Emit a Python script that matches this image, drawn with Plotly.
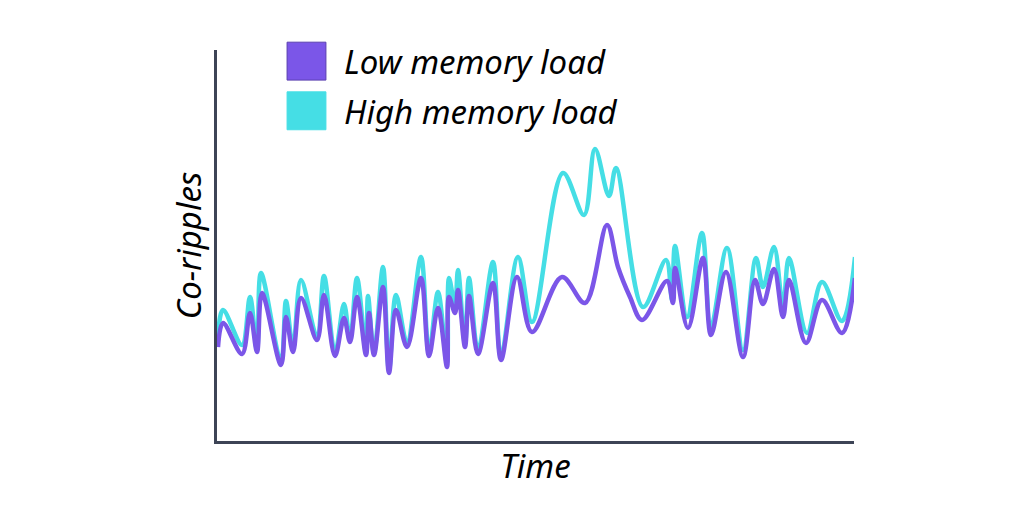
import plotly.graph_objects as go

# time (s) and co-ripple rate
time_low = [0.01, 0.06, 0.25, 0.33, 0.40, 0.45, 0.64, 0.69, 0.76, 0.84,
            1.00, 1.07, 1.18, 1.27, 1.33, 1.40, 1.49, 1.52, 1.57, 1.66,
            1.72, 1.79, 1.90, 2.04, 2.12, 2.21, 2.30, 2.32, 2.38, 2.41,
            2.48, 2.52, 2.61, 2.76, 2.84, 3.00, 3.15, 3.45, 3.68, 3.90,
            4.01, 4.13, 4.25, 4.50, 4.56, 4.58, 4.71, 4.86, 4.94, 5.09,
            5.26, 5.38, 5.46, 5.57, 5.66, 5.72, 5.89, 6.05, 6.25, 6.38]
low_load = [0.94, 1.18, 0.87, 1.28, 0.89, 1.48, 0.76, 1.24, 0.89, 1.43,
            1.01, 1.46, 0.85, 1.23, 0.99, 1.44, 0.86, 1.28, 0.86, 1.54,
            0.68, 1.31, 0.94, 1.63, 0.85, 1.33, 0.74, 1.44, 1.28, 1.51,
            0.94, 1.45, 0.87, 1.58, 0.81, 1.64, 1.09, 1.64, 1.38, 2.16,
            1.74, 1.44, 1.21, 1.60, 1.38, 1.73, 1.13, 1.83, 1.06, 1.69,
            0.84, 1.61, 1.37, 1.72, 1.24, 1.61, 0.98, 1.41, 1.08, 1.63]

time_high = [0.01, 0.06, 0.25, 0.33, 0.40, 0.44, 0.64, 0.69, 0.76, 0.84,
             1.00, 1.07, 1.18, 1.27, 1.33, 1.40, 1.49, 1.51, 1.57, 1.66,
             1.72, 1.79, 1.90, 2.04, 2.12, 2.21, 2.30, 2.32, 2.38, 2.41,
             2.48, 2.52, 2.61, 2.76, 2.84, 3.01, 3.15, 3.46, 3.67, 3.78,
             3.92, 3.99, 4.26, 4.49, 4.55, 4.58, 4.70, 4.85, 4.94, 5.10,
             5.26, 5.39, 5.46, 5.57, 5.66, 5.72, 5.90, 6.05, 6.25, 6.38]
high_load = [1.04, 1.31, 0.96, 1.44, 0.91, 1.68, 0.79, 1.40, 0.93, 1.61,
             1.04, 1.65, 0.88, 1.37, 1.01, 1.63, 0.88, 1.45, 0.88, 1.74,
             0.71, 1.46, 0.98, 1.84, 0.88, 1.49, 0.78, 1.63, 1.35, 1.71,
             0.97, 1.63, 0.90, 1.79, 0.84, 1.84, 1.19, 2.68, 2.26, 2.92,
             2.45, 2.73, 1.34, 1.81, 1.41, 1.95, 1.24, 2.08, 1.14, 1.93,
             0.91, 1.83, 1.54, 1.94, 1.34, 1.83, 1.08, 1.59, 1.20, 1.84]

series_names = ["Low memory load", "High memory load"]
series_colors = ["#7b56e8", "#45dee5"]

FONT = dict(family="Noto Sans", size=33, color="black", style="italic")

fig = go.Figure()

# high load drawn first so the low load line sits on top
fig.add_trace(go.Scatter(
    x=time_high, y=high_load, mode="lines",
    line=dict(color=series_colors[1], width=4.5, shape="spline", smoothing=1),
    name=series_names[1], showlegend=False, hoverinfo="skip"
))
fig.add_trace(go.Scatter(
    x=time_low, y=low_load, mode="lines",
    line=dict(color=series_colors[0], width=4.5, shape="spline", smoothing=1),
    name=series_names[0], showlegend=False, hoverinfo="skip"
))

# hand-made legend: coloured squares with labels
for n, (name, color) in enumerate(zip(series_names, series_colors)):
    top = 1.02 - n * 0.127
    fig.add_shape(type="rect", xref="paper", yref="paper",
                  x0=0.110, x1=0.171, y0=top - 0.097, y1=top,
                  fillcolor=color,
                  line=dict(color="#5a3fb0" if n == 0 else color, width=1))
    fig.add_annotation(x=0.196, y=top - 0.05, xref="paper", yref="paper",
                       text=name, showarrow=False, xanchor="left",
                       yanchor="middle", font=FONT)

# page body adds an 8px offset, so margins are trimmed on the top/left
fig.update_layout(
    width=1021, height=528,
    margin=dict(l=209, r=175, t=42, b=95),
    plot_bgcolor="white", paper_bgcolor="white",
    font=FONT,
    xaxis=dict(range=[0, 6.37], showline=True, linecolor="#3d4456",
               linewidth=3, showgrid=False, zeroline=False,
               showticklabels=False, ticks="",
               title=dict(text="Time", standoff=12, font=FONT)),
    yaxis=dict(range=[0, 3.91], showline=True, linecolor="#3d4456",
               linewidth=3, showgrid=False, zeroline=False,
               showticklabels=False, ticks="",
               title=dict(text="Co-ripples", standoff=3, font=FONT)),
)

fig.write_html("out.html")
